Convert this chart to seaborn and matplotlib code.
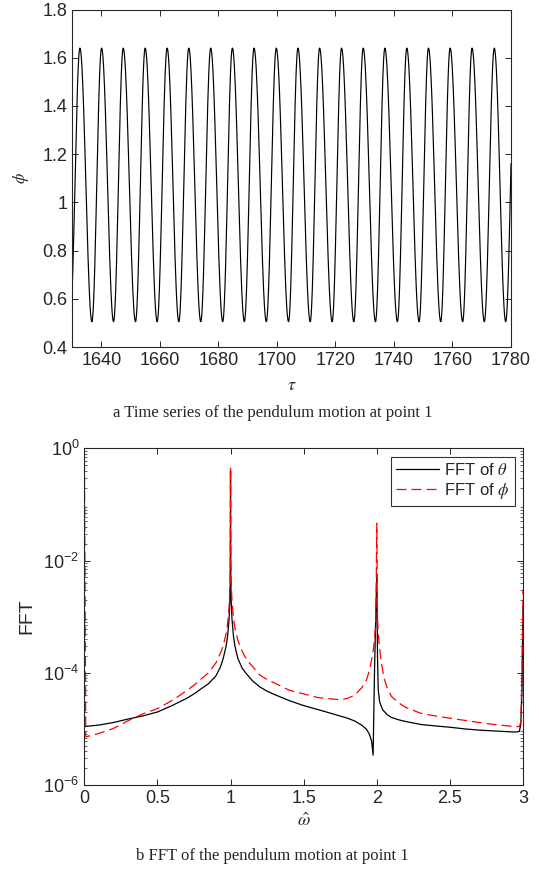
import numpy as np
import pandas as pd
import matplotlib
matplotlib.use("Agg")
import matplotlib.pyplot as plt
import matplotlib.ticker as mticker
import seaborn as sns

# ---- (a) time series: turning points ----
peak_tau = [1632.7, 1640.1, 1647.5, 1655.0, 1662.5, 1669.9, 1677.4, 1684.8, 1692.2, 1699.8,
            1707.2, 1714.6, 1722.1, 1729.5, 1736.9, 1744.4, 1751.8, 1759.2, 1766.7, 1774.3, 1781.5]
trough_tau = [1629.3, 1636.8, 1644.2, 1651.7, 1659.1, 1666.5, 1674.0, 1681.5, 1688.9, 1696.4,
              1704.0, 1711.4, 1718.9, 1726.3, 1733.7, 1741.2, 1748.6, 1756.0, 1763.5, 1770.9, 1778.2]
phi_peak = 1.64
phi_trough = 0.505

# ---- (b) FFT spectra ----
omega_theta = [0.0, 0.1, 0.2, 0.3, 0.4, 0.5, 0.6, 0.7, 0.75, 0.8, 0.85, 0.9, 0.93, 0.95, 0.97,
               0.98, 0.99, 0.995, 0.998, 1.0, 1.002, 1.005, 1.01, 1.02, 1.03, 1.05, 1.08, 1.11,
               1.15, 1.2, 1.25, 1.3, 1.4, 1.5, 1.6, 1.7, 1.8, 1.85, 1.9, 1.93, 1.95, 1.965,
               1.975, 1.985, 2.0, 2.005, 2.01, 2.02, 2.04, 2.07, 2.1, 2.15, 2.2, 2.3, 2.4, 2.5,
               2.6, 2.7, 2.8, 2.9, 2.95, 2.975, 2.985, 2.993, 3.0]
fft_theta = [1.1e-5, 1.17e-5, 1.3e-5, 1.5e-5, 1.7e-5, 2.0e-5, 2.6e-5, 3.5e-5, 4.2e-5, 5.2e-5,
             6.4e-5, 8.8e-5, 1.25e-4, 1.8e-4, 3.0e-4, 4.5e-4, 9e-4, 1.8e-3, 4e-3, 0.4, 4e-3,
             1.8e-3, 9e-4, 4.5e-4, 3e-4, 1.8e-4, 1.2e-4, 9.5e-5, 7.2e-5, 5.6e-5, 4.7e-5, 4.1e-5,
             3.2e-5, 2.6e-5, 2.2e-5, 1.85e-5, 1.55e-5, 1.38e-5, 1.15e-5, 9.8e-6, 8e-6, 6e-6,
             3.4e-6, 1.2e-4, 5.9e-3, 2e-4, 5e-5, 3e-5, 2.2e-5, 1.8e-5, 1.6e-5, 1.45e-5, 1.35e-5,
             1.2e-5, 1.13e-5, 1.07e-5, 1.0e-5, 9.5e-6, 9.2e-6, 8.9e-6, 8.8e-6, 9.0e-6, 1.2e-5,
             5e-5, 1.5e-3]

omega_phi = [0.0, 0.01, 0.1, 0.2, 0.3, 0.4, 0.5, 0.6, 0.7, 0.75, 0.8, 0.85, 0.9, 0.93, 0.95,
             0.97, 0.98, 0.99, 0.995, 0.998, 1.0, 1.002, 1.005, 1.01, 1.02, 1.03, 1.05, 1.08,
             1.11, 1.15, 1.2, 1.25, 1.3, 1.4, 1.5, 1.6, 1.7, 1.75, 1.8, 1.85, 1.9, 1.93, 1.95,
             1.97, 1.98, 1.99, 1.995, 2.0, 2.005, 2.01, 2.02, 2.03, 2.05, 2.07, 2.1, 2.15, 2.2,
             2.3, 2.4, 2.5, 2.6, 2.7, 2.8, 2.9, 2.95, 2.975, 2.985, 2.993, 3.0]
fft_phi = [2.0, 7.2e-6, 8.3e-6, 1.02e-5, 1.4e-5, 1.85e-5, 2.3e-5, 3.2e-5, 4.8e-5, 6e-5, 7.8e-5,
           1.0e-4, 1.5e-4, 2.2e-4, 3e-4, 5e-4, 7.5e-4, 1.5e-3, 3e-3, 7.5e-3, 0.47, 9e-3,
           3.8e-3, 1.9e-3, 9.5e-4, 6.3e-4, 3.8e-4, 2.4e-4, 1.7e-4, 1.3e-4, 9.1e-5, 7.6e-5,
           6.6e-5, 4.9e-5, 4.2e-5, 3.6e-5, 3.4e-5, 3.3e-5, 3.5e-5, 4e-5, 5.5e-5, 7.5e-5,
           1.1e-4, 2e-4, 3e-4, 6e-4, 1.2e-3, 0.046, 1e-3, 5e-4, 2.7e-4, 1.6e-4, 8e-5, 5.5e-5,
           3.8e-5, 2.9e-5, 2.4e-5, 1.9e-5, 1.7e-5, 1.55e-5, 1.42e-5, 1.3e-5, 1.2e-5, 1.13e-5,
           1.1e-5, 1.1e-5, 1.3e-5, 1e-4, 3e-3]

# smooth half-cosine segments between the turning points
ext = sorted([(t, phi_peak) for t in peak_tau] + [(t, phi_trough) for t in trough_tau])
seg_tau, seg_phi = [], []
for (t0, v0), (t1, v1) in zip(ext[:-1], ext[1:]):
    s = np.linspace(0, 1, 40, endpoint=False)
    seg_tau.extend(t0 + (t1 - t0) * s)
    seg_phi.extend(v0 + (v1 - v0) * (1 - np.cos(np.pi * s)) / 2)
ts = pd.DataFrame({"tau": seg_tau, "phi": seg_phi})

sns.set_style("ticks")
plt.rcParams["font.family"] = ["Liberation Sans", "DejaVu Sans"]
plt.rcParams["mathtext.fontset"] = "stix"
plt.rcParams["axes.linewidth"] = 0.8
plt.rcParams["xtick.direction"] = "in"
plt.rcParams["ytick.direction"] = "in"
plt.rcParams["xtick.top"] = True
plt.rcParams["ytick.right"] = True

fig = plt.figure(figsize=(5.39, 8.73), dpi=100)
ax1 = fig.add_axes([0.1336, 0.6025, 0.8144, 0.3866])
ax2 = fig.add_axes([0.1564, 0.1008, 0.8139, 0.3857])

# top panel
sns.lineplot(data=ts, x="tau", y="phi", ax=ax1, color="black", linewidth=0.85,
             sort=False, estimator=None)
ax1.set_xlim(1630, 1780)
ax1.set_ylim(0.4, 1.8)
ax1.set_xticks(range(1640, 1781, 20))
ax1.set_yticks([0.4, 0.6, 0.8, 1.0, 1.2, 1.4, 1.6, 1.8])
ax1.yaxis.set_major_formatter(mticker.FormatStrFormatter("%g"))
ax1.set_xlabel(r"$\tau$", fontsize=13, labelpad=6)
ax1.set_ylabel(r"$\phi$", fontsize=12, labelpad=8)
ax1.tick_params(labelsize=13, length=4, width=0.7, color="#262626")

# bottom panel
theta_df = pd.DataFrame({"omega": omega_theta, "fft": fft_theta})
phi_df = pd.DataFrame({"omega": omega_phi, "fft": fft_phi})
sns.lineplot(data=theta_df, x="omega", y="fft", ax=ax2, color="black", linewidth=0.9,
             label=r"FFT of $\theta$", estimator=None)
sns.lineplot(data=phi_df, x="omega", y="fft", ax=ax2, color="red", linewidth=0.9,
             linestyle=(0, (8, 4)), label=r"FFT of $\phi$", estimator=None)
ax2.set_yscale("log")
ax2.set_xlim(0, 3)
ax2.set_ylim(1e-6, 1)
ax2.set_xticks([0, 0.5, 1, 1.5, 2, 2.5, 3])
ax2.xaxis.set_major_formatter(mticker.FormatStrFormatter("%g"))
ax2.set_yticks([1e-6, 1e-4, 1e-2, 1e0])
ax2.yaxis.set_minor_locator(mticker.LogLocator(base=10, subs=np.arange(2, 10), numticks=20))
ax2.yaxis.set_minor_formatter(mticker.NullFormatter())
ax2.tick_params(which="major", labelsize=13, length=4, width=0.7, color="#262626")
ax2.tick_params(which="minor", length=2, width=0.5, color="#262626")
ax2.set_xlabel(r"$\hat{\omega}$", fontsize=13, labelpad=4)
ax2.set_ylabel("FFT", fontsize=14, labelpad=6)
leg = ax2.legend(loc="upper right", fontsize=12, frameon=True, fancybox=False,
                 handlelength=2.6, borderpad=0.3, labelspacing=0.2, handletextpad=0.3,
                 borderaxespad=0.5)
leg.get_frame().set_edgecolor("black")
leg.get_frame().set_linewidth(0.8)

for ax in (ax1, ax2):
    for sp in ax.spines.values():
        sp.set_visible(True)
        sp.set_color("#262626")

fig.text(0.506, 1 - 413 / 873, "a Time series of the pendulum motion at point 1",
         ha="center", va="center", fontsize=12, family="Liberation Serif")
fig.text(0.506, 1 - 856 / 873, "b FFT of the pendulum motion at point 1",
         ha="center", va="center", fontsize=12, family="Liberation Serif")

fig.savefig("out.png", dpi=100)
